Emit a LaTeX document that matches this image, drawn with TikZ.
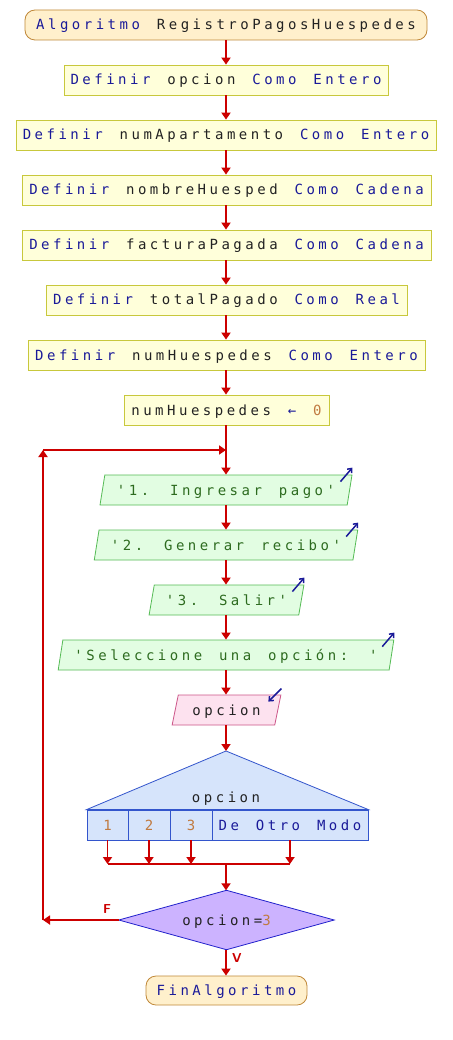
\documentclass[tikz,border=0pt]{standalone}
\usepackage{fontspec}
\usetikzlibrary{shapes.geometric,arrows.meta,backgrounds}
\newfontfamily\psmono[LetterSpace=25,WordSpace=1.415]{DejaVu Sans Mono}
\definecolor{kw}{HTML}{1A1A99}
\definecolor{idc}{HTML}{222222}
\definecolor{strc}{HTML}{2D6B1F}
\definecolor{numc}{HTML}{C07A40}
\definecolor{flowred}{HTML}{CC0000}
\definecolor{termfill}{HTML}{FFF0CC}
\definecolor{termdraw}{HTML}{C08838}
\definecolor{procfill}{HTML}{FFFFDA}
\definecolor{procdraw}{HTML}{C8C83C}
\definecolor{outfill}{HTML}{E2FDE2}
\definecolor{outdraw}{HTML}{55BB55}
\definecolor{infill}{HTML}{FDE2EF}
\definecolor{indraw}{HTML}{CC5588}
\definecolor{swfill}{HTML}{D6E4FB}
\definecolor{swdraw}{HTML}{3355CC}
\definecolor{decfill}{HTML}{CCB3FF}
\definecolor{decdraw}{HTML}{2222CC}
\newcommand{\kw}[1]{\textcolor{kw}{#1}}
\newcommand{\idn}[1]{\textcolor{idc}{#1}}
\newcommand{\str}[1]{\textcolor{strc}{#1}}
\newcommand{\num}[1]{\textcolor{numc}{#1}}
\begin{document}
\begin{tikzpicture}[x=1pt,y=-1pt,
  font=\psmono\fontsize{14}{16}\selectfont,
  base/.style={inner sep=0pt, minimum height=30pt, text=idc, line width=0.8pt,
    text height=10pt, text depth=0pt},
  terminal/.style={base, rounded corners=10pt, draw=termdraw, fill=termfill},
  proc/.style={base, draw=procdraw, fill=procfill},
  io/.style={base, trapezium, trapezium left angle=66.6, trapezium right angle=113.4,
    trapezium stretches=true, draw=outdraw, fill=outfill},
  inp/.style={io, draw=indraw, fill=infill},
  cell/.style={base, draw=swdraw, fill=swfill},
  flow/.style={draw=flowred, line width=1.8pt, -{Triangle[length=7pt,width=9pt]}},
  plain/.style={draw=flowred, line width=1.8pt},
  icon/.style={draw=kw, line width=1.5pt, -{Straight Barb[length=3.5pt,width=6pt]}},
  lbl/.style={text=flowred, font=\sffamily\bfseries\fontsize{13}{15}\selectfont, inner sep=0pt}
]
\begin{scope}[on background layer]
\fill[white] (0,0) rectangle (452,1040);
\end{scope}
\useasboundingbox (0,0) rectangle (452,1040);

\node[terminal, minimum width=402] (start) at (226,25) {\kw{Algoritmo} \idn{RegistroPagosHuespedes}};
\node[proc, minimum width=324] (p1) at (226,80) {\kw{Definir} \idn{opcion} \kw{Como} \kw{Entero}};
\node[proc, minimum width=420] (p2) at (226,135) {\kw{Definir} \idn{numApartamento} \kw{Como} \kw{Entero}};
\node[proc, minimum width=409] (p3) at (226.5,190) {\kw{Definir} \idn{nombreHuesped} \kw{Como} \kw{Cadena}};
\node[proc, minimum width=409] (p4) at (226.5,245) {\kw{Definir} \idn{facturaPagada} \kw{Como} \kw{Cadena}};
\node[proc, minimum width=361] (p5) at (226.5,300) {\kw{Definir} \idn{totalPagado} \kw{Como} \kw{Real}};
\node[proc, minimum width=397] (p6) at (226.5,355) {\kw{Definir} \idn{numHuespedes} \kw{Como} \kw{Entero}};
\node[proc, minimum width=205] (p7) at (226.5,410) {\idn{numHuespedes} \kw{←} \num{0}};

\node[io, minimum width=252] (o1) at (226,490) {\str{'1. Ingresar pago'}};
\node[io, minimum width=264] (o2) at (226,545) {\str{'2. Generar recibo'}};
\node[io, minimum width=155] (o3) at (226.5,600) {\str{'3. Salir'}};
\node[io, minimum width=336] (o4) at (226,655) {\str{'Seleccione una opción: '}};
\node[inp, minimum width=109] (in1) at (226.5,710) {\idn{opcion}};

\coordinate (swtop) at (226,751);
\node[cell, minimum width=41] (c1) at (107.5,825) {\num{1}};
\node[cell, minimum width=42] (c2) at (149,825) {\num{2}};
\node[cell, minimum width=42] (c3) at (191,825) {\num{3}};
\node[cell, minimum width=156] (c4) at (290,825) {\kw{De Otro Modo}};
\begin{scope}[on background layer]
\path[draw=swdraw, fill=swfill, line width=0.8pt] (c1.north west) -- (swtop) -- (c4.north east) -- cycle;
\end{scope}
\node[inner sep=0pt, text=idc, text height=10pt, text depth=0pt] (swl) at (226,797) {opcion};

\coordinate (join) at (226,864);
\node[minimum width=215, minimum height=59, inner sep=0pt, text=idc, text height=10pt, text depth=0pt] (dec) at (226.5,920) {\idn{opcion=}\num{3}};
\begin{scope}[on background layer]
\path[draw=decdraw, fill=decfill, line width=0.8pt] (dec.west) -- (dec.north) -- (dec.east) -- (dec.south) -- cycle;
\end{scope}
\node[terminal, minimum width=161, minimum height=29] (end) at (226.5,990.5) {\kw{FinAlgoritmo}};

\coordinate (lb) at (43,920);
\coordinate (lt) at (43,450);
\coordinate (lm) at (226,450);

\draw[flow] (start) -- (p1);
\draw[flow] (p1) -- (p2);
\draw[flow] (p2.south -| p1.south) -- (p3.north -| p1.south);
\draw[flow] (p3.south -| p1.south) -- (p4.north -| p1.south);
\draw[flow] (p4.south -| p1.south) -- (p5.north -| p1.south);
\draw[flow] (p5.south -| p1.south) -- (p6.north -| p1.south);
\draw[flow] (p6.south -| p1.south) -- (p7.north -| p1.south);
\draw[flow] (p7.south -| p1.south) -- (o1.north -| p1.south);
\draw[flow] (o1.south -| p1.south) -- (o2.north -| p1.south);
\draw[flow] (o2.south -| p1.south) -- (o3.north -| p1.south);
\draw[flow] (o3.south -| p1.south) -- (o4.north -| p1.south);
\draw[flow] (o4.south -| p1.south) -- (in1.north -| p1.south);
\draw[flow] (in1.south -| p1.south) -- (swtop);
\draw[flow] (c1.south) -- (c1.south |- join);
\draw[flow] (c2.south) -- (c2.south |- join);
\draw[flow] (c3.south) -- (c3.south |- join);
\draw[flow] (c4.south) -- (c4.south |- join);
\draw[plain] (c1.south |- join) -- (c4.south |- join);
\draw[flow] (join) -- (dec.north -| join);
\draw[flow] (dec.south -| join) -- (end.north -| join);
\draw[flow] (dec.west) -- (lb);
\draw[flow] (lb) -- (lt);
\draw[flow] (lt) -- (lm);

\node[lbl] (F) at (107,909) {F};
\node[lbl] (V) at (237,958) {V};

\draw[icon] ([shift={(-12,7)}]o1.top right corner) -- ([shift={(0,-7)}]o1.top right corner);
\draw[icon] ([shift={(-12,7)}]o2.top right corner) -- ([shift={(0,-7)}]o2.top right corner);
\draw[icon] ([shift={(-12,7)}]o3.top right corner) -- ([shift={(0,-7)}]o3.top right corner);
\draw[icon] ([shift={(-12,7)}]o4.top right corner) -- ([shift={(0,-7)}]o4.top right corner);
\draw[icon] ([shift={(0,-6)}]in1.top right corner) -- ([shift={(-13,7)}]in1.top right corner);
\end{tikzpicture}
\end{document}
